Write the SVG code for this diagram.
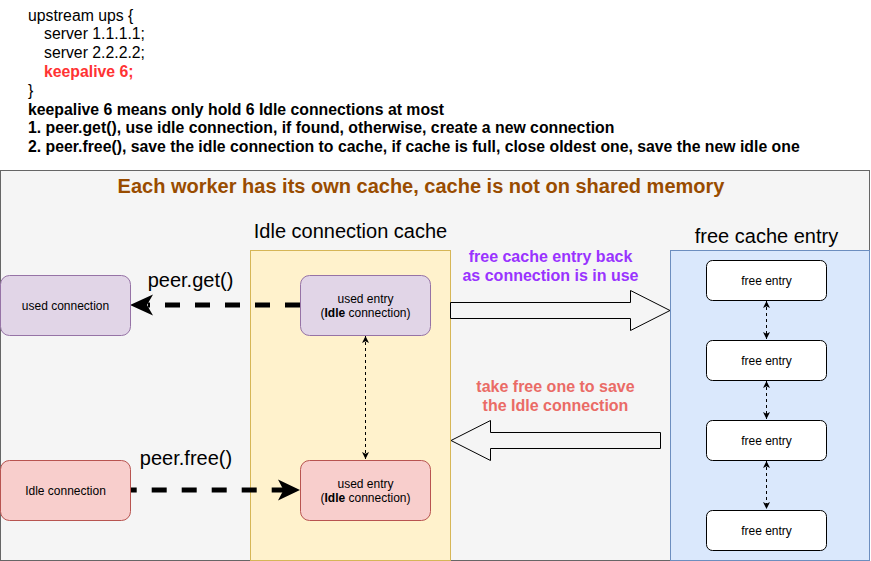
<svg xmlns="http://www.w3.org/2000/svg" width="871" height="561" viewBox="0 0 871 561">
<style>
text{font-family:"Liberation Sans",Arial,sans-serif;fill:#000}
.t16{font-size:15.8px}
.b{font-weight:bold}
.t20{font-size:20px}
.t12{font-size:12px}
.lbl{font-size:16px}
.mid{text-anchor:middle}
.fe{fill:#fff;stroke:#000;stroke-width:1}
.thin{stroke:#000;stroke-width:1;stroke-dasharray:3 3;fill:none}
.thick{stroke:#000;stroke-width:5;stroke-dasharray:15 15;fill:none}
.blk{fill:#f5f5f5;stroke:#000;stroke-width:1}
</style>
<defs>
<marker id="sa" viewBox="0 0 10 10" refX="10" refY="5" markerWidth="7" markerHeight="7" markerUnits="userSpaceOnUse" orient="auto-start-reverse">
<path d="M0,0 L10,5 L0,10 L2.5,5 Z" fill="#000"/>
</marker>
</defs>
<rect width="871" height="561" fill="#fff"/>
<g id="header">
<text class="t16" x="28" y="20.6">upstream ups {</text>
<text class="t16" x="44" y="39.4">server 1.1.1.1;</text>
<text class="t16" x="44" y="58.2">server 2.2.2.2;</text>
<text class="t16 b" x="44" y="77" style="fill:#FF3333">keepalive 6;</text>
<text class="t16" x="28" y="95.8">}</text>
<text class="t16 b" x="28" y="114.6">keepalive 6 means only hold 6 Idle connections at most</text>
<text class="t16 b" x="28" y="133.4">1. peer.get(), use idle connection, if found, otherwise, create a new connection</text>
<text class="t16 b" x="28" y="152.2">2. peer.free(), save the idle connection to cache, if cache is full, close oldest one, save the new idle one</text>
</g>
<g id="worker">
<rect x="0.5" y="170.5" width="869" height="390" fill="#f5f5f5" stroke="#666666"/>
<text class="t20 b mid" x="421" y="193" style="fill:#994C00">Each worker has its own cache, cache is not on shared memory</text>
</g>
<g id="idle-cache">
<rect x="250.5" y="250.5" width="200" height="310" fill="#fff2cc" stroke="#d6b656"/>
<text class="t20 mid" x="350.5" y="237.5">Idle connection cache</text>
</g>
<g id="free-cache">
<rect x="670.5" y="250.5" width="199" height="310" fill="#dae8fc" stroke="#6c8ebf"/>
<text class="t20 mid" x="766.5" y="242.5">free cache entry</text>
</g>
<g id="connectors">
<line class="thick" x1="300" y1="305" x2="148" y2="305"/>
<path d="M130,305 L153,294.5 L147,305 L153,315.5 Z" fill="#000"/>
<line class="thick" x1="130" y1="490" x2="284" y2="490" stroke-dashoffset="8.3"/>
<path d="M300,490 L278,479.5 L283.5,490 L278,500.5 Z" fill="#000"/>
<line class="thin" x1="365.5" y1="336" x2="365.5" y2="459" marker-start="url(#sa)" marker-end="url(#sa)"/>
<line class="thin" x1="766.5" y1="301" x2="766.5" y2="339" marker-start="url(#sa)" marker-end="url(#sa)"/>
<line class="thin" x1="766.5" y1="381" x2="766.5" y2="419" marker-start="url(#sa)" marker-end="url(#sa)"/>
<line class="thin" x1="766.5" y1="461" x2="766.5" y2="509" marker-start="url(#sa)" marker-end="url(#sa)"/>
<path class="blk" d="M450.5,302.5 L630.5,302.5 L630.5,290.5 L670,310.5 L630.5,330.5 L630.5,318.5 L450.5,318.5 Z"/>
<path class="blk" d="M660.5,432.5 L490.5,432.5 L490.5,420.5 L451,440.5 L490.5,460.5 L490.5,448.5 L660.5,448.5 Z"/>
<text class="lbl b mid" x="550.5" y="262" style="fill:#9933FF">free cache entry back</text>
<text class="lbl b mid" x="550.5" y="281" style="fill:#9933FF">as connection is in use</text>
<text class="lbl b mid" x="555.5" y="392" style="fill:#EA6B66">take free one to save</text>
<text class="lbl b mid" x="555.5" y="411" style="fill:#EA6B66">the Idle connection</text>
<text class="t20 mid" x="190.5" y="287">peer.get()</text>
<text class="t20 mid" x="186" y="464.5">peer.free()</text>
</g>
<g id="used-connection">
<rect x="0.5" y="275.5" width="130" height="60" rx="9" fill="#e1d5e7" stroke="#9673a6"/>
<text class="t12 mid" x="65.5" y="309.5">used connection</text>
</g>
<g id="idle-connection">
<rect x="0.5" y="460.5" width="130" height="60" rx="9" fill="#f8cecc" stroke="#b85450"/>
<text class="t12 mid" x="65.5" y="495">Idle connection</text>
</g>
<g id="used-entry-top">
<rect x="300.5" y="275.5" width="130" height="60" rx="9" fill="#e1d5e7" stroke="#9673a6"/>
<text class="t12 mid" x="365.5" y="303">used entry</text>
<text class="t12 mid" x="365.5" y="317">(<tspan class="b">Idle</tspan> connection)</text>
</g>
<g id="used-entry-bottom">
<rect x="300.5" y="460.5" width="130" height="60" rx="9" fill="#f8cecc" stroke="#b85450"/>
<text class="t12 mid" x="365.5" y="488">used entry</text>
<text class="t12 mid" x="365.5" y="502">(<tspan class="b">Idle</tspan> connection)</text>
</g>
<g id="free-entry-1">
<rect class="fe" x="706.5" y="260.5" width="120" height="40" rx="6"/>
<text class="t12 mid" x="766.5" y="285">free entry</text>
</g>
<g id="free-entry-2">
<rect class="fe" x="706.5" y="340.5" width="120" height="40" rx="6"/>
<text class="t12 mid" x="766.5" y="365">free entry</text>
</g>
<g id="free-entry-3">
<rect class="fe" x="706.5" y="420.5" width="120" height="40" rx="6"/>
<text class="t12 mid" x="766.5" y="445">free entry</text>
</g>
<g id="free-entry-4">
<rect class="fe" x="706.5" y="510.5" width="120" height="40" rx="6"/>
<text class="t12 mid" x="766.5" y="535">free entry</text>
</g>
</svg>
